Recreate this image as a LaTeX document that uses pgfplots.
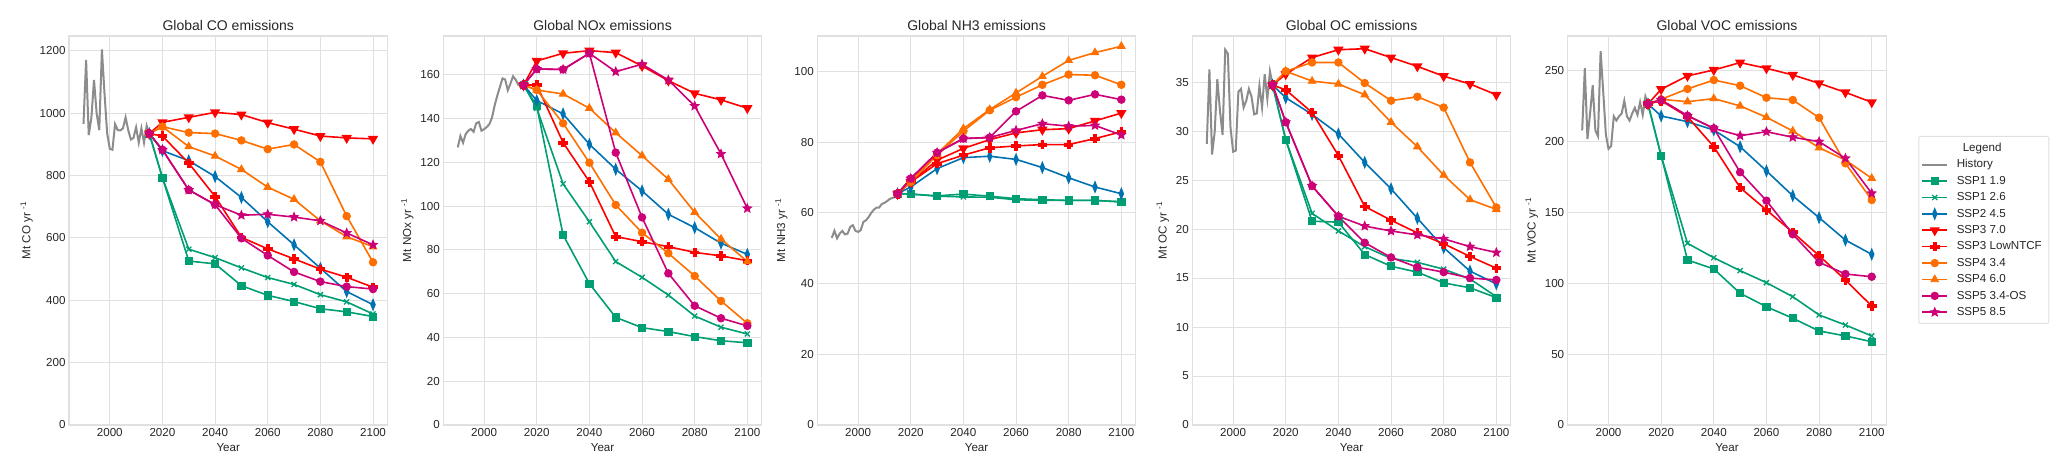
\documentclass[border=0pt]{standalone}
\usepackage{fontspec}
\setmainfont{Liberation Sans}
\usepackage{pgfplots}
\usepackage{pgfplotstable}
\pgfplotsset{compat=1.18}

\definecolor{cgreen}{HTML}{009E73}
\definecolor{cblue}{HTML}{0072B2}
\definecolor{cred}{HTML}{FF0000}
\definecolor{corange}{HTML}{FF6F00}
\definecolor{cmag}{HTML}{CC0077}
\definecolor{chist}{HTML}{8C8C8C}
\definecolor{cgrid}{HTML}{E0E0E0}
\definecolor{ctext}{HTML}{262626}

\pgfdeclareplotmark{fstar}{%
 \pgfpathmoveto{\pgfpointpolar{90}{\pgfplotmarksize}}%
 \pgfpathlineto{\pgfpointpolar{126}{0.45\pgfplotmarksize}}%
 \pgfpathlineto{\pgfpointpolar{162}{\pgfplotmarksize}}%
 \pgfpathlineto{\pgfpointpolar{198}{0.45\pgfplotmarksize}}%
 \pgfpathlineto{\pgfpointpolar{234}{\pgfplotmarksize}}%
 \pgfpathlineto{\pgfpointpolar{270}{0.45\pgfplotmarksize}}%
 \pgfpathlineto{\pgfpointpolar{306}{\pgfplotmarksize}}%
 \pgfpathlineto{\pgfpointpolar{342}{0.45\pgfplotmarksize}}%
 \pgfpathlineto{\pgfpointpolar{18}{\pgfplotmarksize}}%
 \pgfpathlineto{\pgfpointpolar{54}{0.45\pgfplotmarksize}}%
 \pgfpathclose\pgfusepathqfillstroke}
\pgfdeclareplotmark{fplus}{%
 \pgfpathmoveto{\pgfpoint{0.33\pgfplotmarksize}{\pgfplotmarksize}}%
 \pgfpathlineto{\pgfpoint{0.33\pgfplotmarksize}{0.33\pgfplotmarksize}}%
 \pgfpathlineto{\pgfpoint{\pgfplotmarksize}{0.33\pgfplotmarksize}}%
 \pgfpathlineto{\pgfpoint{\pgfplotmarksize}{-0.33\pgfplotmarksize}}%
 \pgfpathlineto{\pgfpoint{0.33\pgfplotmarksize}{-0.33\pgfplotmarksize}}%
 \pgfpathlineto{\pgfpoint{0.33\pgfplotmarksize}{-\pgfplotmarksize}}%
 \pgfpathlineto{\pgfpoint{-0.33\pgfplotmarksize}{-\pgfplotmarksize}}%
 \pgfpathlineto{\pgfpoint{-0.33\pgfplotmarksize}{-0.33\pgfplotmarksize}}%
 \pgfpathlineto{\pgfpoint{-\pgfplotmarksize}{-0.33\pgfplotmarksize}}%
 \pgfpathlineto{\pgfpoint{-\pgfplotmarksize}{0.33\pgfplotmarksize}}%
 \pgfpathlineto{\pgfpoint{-0.33\pgfplotmarksize}{0.33\pgfplotmarksize}}%
 \pgfpathlineto{\pgfpoint{-0.33\pgfplotmarksize}{\pgfplotmarksize}}%
 \pgfpathclose\pgfusepathqfillstroke}

\newcommand\fs{\fontsize{11.6}{13.5}\selectfont}

\pgfplotsset{
 panel/.style={
  scale only axis, width=318.5pt, height=389pt, anchor=south west,
  xmin=1984.5, xmax=2105.5, ymin=0,
  xtick={2000,2020,...,2100},
  grid=major, grid style={draw=cgrid, line width=1pt},
  axis line style={draw=cgrid, line width=1.2pt},
  major tick length=0pt,
  tick label style={font=\fs, text=ctext},
  /pgf/number format/assume math mode=true,
  /pgf/number format/1000 sep={},
  xlabel={Year},
  label style={font=\fs, text=ctext},
  title style={font=\fontsize{14}{16}\selectfont, text=ctext, yshift=-4pt},
 },
 hist/.style={draw=chist, line width=2pt, no markers},
 sc/.style={line width=1.6pt, mark options={solid, line width=0.8pt, fill=#1}, draw=#1, color=#1},
 s19/.style={sc=cgreen, mark=square*, mark size=3.6pt},
 s26/.style={sc=cgreen, mark=x, mark size=3.6pt, mark options={line width=1.3pt}},
 s45/.style={sc=cblue, mark=diamond*, mark size=4.6pt, mark options={xscale=0.55}},
 s70/.style={sc=cred, mark=triangle*, mark size=4.4pt, mark options={rotate=180}},
 sln/.style={sc=cred, mark=fplus, mark size=4.2pt},
 s34/.style={sc=corange, mark=*, mark size=3.8pt},
 s60/.style={sc=corange, mark=triangle*, mark size=4.4pt},
 sos/.style={sc=cmag, mark=*, mark size=3.8pt},
 s85/.style={sc=cmag, mark=fstar, mark size=4.6pt},
}

\newcommand\scen[1]{%
 \addplot[s19] table[x=year,y=s19]{#1};
 \addplot[s26] table[x=year,y=s26]{#1};
 \addplot[s45] table[x=year,y=s45]{#1};
 \addplot[s70] table[x=year,y=s70]{#1};
 \addplot[sln] table[x=year,y=sln]{#1};
 \addplot[s34] table[x=year,y=s34]{#1};
 \addplot[s60] table[x=year,y=s60]{#1};
 \addplot[sos] table[x=year,y=sos]{#1};
 \addplot[s85] table[x=year,y=s85]{#1};
}

% ---------------- CO
\pgfplotstableread{
year v
1990 966
1991 1171
1992 930
1993 985
1994 1107
1995 1000
1996 946
1997 1205
1998 1062
1999 936
2000 886
2001 883
2002 965
2003 946
2004 945
2005 952
2006 987
2007 946
2008 916
2009 921
2010 955
2011 906
2012 952
2013 906
2014 960
2015 935
}\histCO
\pgfplotstableread{
year s19 s26 s45 s70 sln s34 s60 sos s85
2015 935 935 935 935 935 935 935 935 935
2020 793 793 880 971 927 957 957 883 883
2030 526 564 848 987 840 938 893 754 754
2040 517 537 797 1003 733 935 863 707 707
2050 447 504 730 996 602 913 820 599 673
2060 416 473 652 970 565 885 763 544 676
2070 396 451 578 949 533 900 724 491 667
2080 373 418 503 927 500 844 655 460 655
2090 363 395 428 921 474 670 604 444 616
2100 348 356 386 918 442 522 572 436 578
}\scCO

% ---------------- NOx
\pgfplotstableread{
year v
1990 126.9
1991 132.1
1992 129.0
1993 133.0
1994 134.5
1995 135.3
1996 134.0
1997 137.9
1998 138.5
1999 134.5
2000 135.2
2001 136.2
2002 137.5
2003 140.5
2004 146.0
2005 150.5
2006 154.5
2007 158.4
2008 157.9
2009 153.0
2010 156.0
2011 159.4
2012 157.8
2013 155.5
2014 156.0
2015 155.4
}\histNOx
\pgfplotstableread{
year s19 s26 s45 s70 sln s34 s60 sos s85
2015 155.4 155.4 155.4 155.4 155.4 155.4 155.4 155.4 155.4
2020 145.8 144.8 148.3 166.4 155.4 153.1 153.1 162.7 162.7
2030 86.9 110.2 142.2 169.9 129.1 137.9 151.3 162.5 162.5
2040 64.6 92.9 128.3 171.1 111.2 119.9 144.8 169.9 169.9
2050 49.2 74.7 116.9 170.2 86.1 100.6 133.6 124.5 161.5
2060 44.5 67.5 107.0 164.1 83.8 87.9 123.1 94.9 164.9
2070 42.7 59.4 96.3 157.4 81.5 78.5 112.3 69.3 157.7
2080 40.4 49.8 90.2 151.6 78.9 68.1 97.2 54.5 145.8
2090 38.5 44.7 83.1 148.6 77.3 56.7 85.0 48.8 123.9
2100 37.6 41.6 78.0 144.8 75.1 46.5 74.7 45.3 99.0
}\scNOx

% ---------------- NH3
\pgfplotstableread{
year v
1990 52.9
1991 54.9
1992 52.8
1993 54.1
1994 54.9
1995 53.9
1996 54.1
1997 56.0
1998 56.5
1999 54.9
2000 54.6
2001 55.1
2002 57.4
2003 57.9
2004 58.8
2005 60.0
2006 60.9
2007 61.5
2008 61.5
2009 62.5
2010 62.8
2011 63.3
2012 63.9
2013 64.2
2014 64.5
2015 65.4
}\histNH
\pgfplotstableread{
year s19 s26 s45 s70 sln s34 s60 sos s85
2015 65.4 65.4 65.4 65.4 65.4 65.4 65.4 65.4 65.4
2020 65.3 65.3 67.3 68.7 68.7 68.7 69.2 69.7 69.7
2030 64.8 64.7 72.5 74.9 73.9 76.3 76.7 77.0 77.0
2040 65.3 64.5 75.6 78.2 76.3 83.1 83.8 81.0 81.0
2050 64.7 64.4 76.0 80.7 78.4 89.0 89.2 81.3 81.3
2060 64.0 63.7 75.1 82.6 78.9 92.7 93.9 88.7 83.3
2070 63.7 63.5 72.8 83.5 79.3 96.2 98.6 93.2 85.2
2080 63.5 63.5 69.9 83.8 79.3 99.1 103.1 91.8 84.5
2090 63.5 63.5 67.3 86.0 81.0 98.9 105.3 93.5 84.7
2100 63.1 63.1 65.4 88.2 82.9 96.2 107.1 92.0 82.0
}\scNH

% ---------------- OC
\pgfplotstableread{
year v
1990 28.7
1991 36.3
1992 27.6
1993 29.9
1994 35.3
1995 32.1
1996 29.6
1997 38.3
1998 37.9
1999 30.4
2000 27.9
2001 28.0
2002 34.0
2003 34.3
2004 32.4
2005 33.1
2006 34.3
2007 33.5
2008 31.7
2009 31.8
2010 34.6
2011 32.4
2012 35.8
2013 33.3
2014 36.1
2015 34.7
}\histOC
\pgfplotstableread{
year s19 s26 s45 s70 sln s34 s60 sos s85
2015 34.7 34.7 34.7 34.7 34.7 34.7 34.7 34.7 34.7
2020 29.1 29.1 33.4 35.8 34.2 36.1 36.1 30.9 30.9
2030 20.8 21.6 31.7 37.5 31.9 37.0 35.1 24.4 24.4
2040 20.7 19.8 29.7 38.3 27.5 37.0 34.8 21.3 21.3
2050 17.4 18.2 26.8 38.4 22.3 34.9 33.7 18.6 20.3
2060 16.2 17.0 24.1 37.5 20.9 33.1 30.9 17.1 19.8
2070 15.6 16.6 21.1 36.6 19.6 33.5 28.4 16.1 19.4
2080 14.5 15.9 18.1 35.6 18.5 32.4 25.5 15.6 19.0
2090 14.0 14.9 15.7 34.8 17.2 26.8 23.0 15.0 18.2
2100 13.0 13.1 14.4 33.7 16.0 22.2 22.0 14.8 17.6
}\scOC

% ---------------- VOC
\pgfplotstableread{
year v
1990 208
1991 252
1992 202
1993 220
1994 240
1995 208
1996 204
1997 264
1998 235
1999 205
2000 195
2001 197
2002 218
2003 215
2004 218
2005 220
2006 229
2007 218
2008 215
2009 220
2010 224
2011 219
2012 228
2013 219
2014 232
2015 226.7
}\histVOC
\pgfplotstableread{
year s19 s26 s45 s70 sln s34 s60 sos s85
2015 226.7 226.7 226.7 226.7 226.7 226.7 226.7 226.7 226.7
2020 190.2 190.0 218.2 237.1 229.0 230.0 230.0 229.5 229.5
2030 116.5 128.3 214.2 246.5 217.7 237.3 228.3 218.4 218.4
2040 110.2 118.1 208.3 250.7 196.5 243.6 230.5 209.5 209.5
2050 93.0 109.0 196.5 255.9 167.6 239.6 225.3 178.5 204.3
2060 83.5 100.5 179.4 251.9 151.8 231.1 217.3 158.4 207.1
2070 75.4 90.6 161.9 247.2 136.1 229.5 207.6 134.7 203.2
2080 66.4 77.7 146.4 241.3 119.6 217.0 195.8 114.9 200.1
2090 62.9 70.6 130.6 234.9 102.4 184.8 187.1 106.6 188.3
2100 58.8 62.9 120.5 227.9 84.0 158.9 174.2 104.7 163.6
}\scVOC

\begin{document}
\begin{tikzpicture}
\useasboundingbox (0,0) rectangle (2067pt,473pt);

\begin{axis}[panel, at={(69pt,48pt)}, ymax=1248, ytick distance=200,
  title={Global CO emissions}, ylabel={Mt CO yr \textsuperscript{-1}}]
 \addplot[hist] table[x=year,y=v]{\histCO};
 \scen{\scCO}
\end{axis}

\begin{axis}[panel, at={(443.3pt,48pt)}, ymax=177.8, ytick distance=20,
  title={Global NOx emissions}, ylabel={Mt NOx yr \textsuperscript{-1}}]
 \addplot[hist] table[x=year,y=v]{\histNOx};
 \scen{\scNOx}
\end{axis}

\begin{axis}[panel, at={(817.3pt,48pt)}, ymax=110, ytick distance=20,
  title={Global NH3 emissions}, ylabel={Mt NH3 yr \textsuperscript{-1}}]
 \addplot[hist] table[x=year,y=v]{\histNH};
 \scen{\scNH}
\end{axis}

\begin{axis}[panel, at={(1192.3pt,48pt)}, ymax=39.7, ytick distance=5,
  title={Global OC emissions}, ylabel={Mt OC yr \textsuperscript{-1}}]
 \addplot[hist] table[x=year,y=v]{\histOC};
 \scen{\scOC}
\end{axis}

\begin{axis}[panel, at={(1567.7pt,48pt)}, ymax=274.7, ytick distance=50,
  title={Global VOC emissions}, ylabel={Mt VOC yr \textsuperscript{-1}},
  legend cell align=left,
  legend style={at={(1.1006,0.743)}, anchor=north west, draw=cgrid, line width=1pt,
    fill=white, font=\fs, text=ctext, rounded corners=2pt,
    inner xsep=2.5pt, inner ysep=3pt, row sep=0pt, column sep=4pt,
    nodes={inner xsep=4.5pt, inner ysep=3.4pt}},
  legend image code/.code={\draw[mark repeat=2,mark phase=2] plot coordinates {(0pt,0pt) (12.5pt,0pt) (25pt,0pt)};}]
 \addlegendimage{empty legend}
 \addplot[hist] table[x=year,y=v]{\histVOC};
 \scen{\scVOC}
 \legend{\hspace*{6pt}Legend,History,SSP1 1.9,SSP1 2.6,SSP2 4.5,SSP3 7.0,SSP3 LowNTCF,SSP4 3.4,SSP4 6.0,SSP5 3.4-OS,SSP5 8.5}
\end{axis}
\end{tikzpicture}
\end{document}
